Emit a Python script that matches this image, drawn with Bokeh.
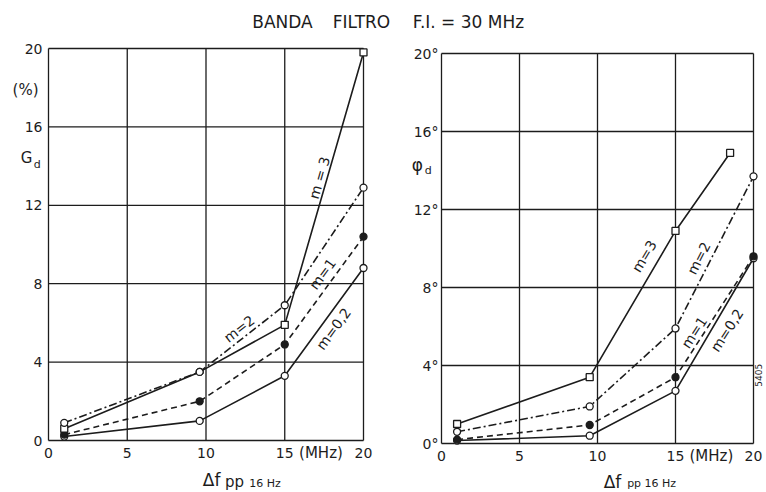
import math
from bokeh.plotting import figure
from bokeh.models import Range1d, Label
from bokeh.core.properties import value
from bokeh.embed import file_html
from bokeh.resources import INLINE

# ---------------- data ----------------
title_parts = ["BANDA", "FILTRO", "F.I. = 30 MHz"]

x_ticks = [0, 5, 10, 15, 20]
x_tick_labels = ["0", "5", "10", "15", "20"]
y_ticks = [0, 4, 8, 12, 16, 20]
left_y_labels = ["0", "4", "8", "12", "16", "20"]
right_y_labels = ["0°", "4°", "8°", "12°", "16°", "20°"]

# left chart: distortion G_d (%)
x_left = [1, 9.6, 15, 20]
gd_m02 = [0.2, 1.0, 3.3, 8.8]
gd_m1 = [0.3, 2.0, 4.9, 10.4]
gd_m2 = [0.9, 3.5, 6.9, 12.9]
gd_m3 = [0.6, 3.5, 5.9, 19.8]
gd_m3_markers = ["square", "circle", "square", "square"]

# right chart: phase phi_d (degrees)
x_right = [1, 9.5, 15, 20]
x_right_m3 = [1, 9.5, 15, 18.5]
phi_m02 = [0.15, 0.4, 2.7, 9.5]
phi_m1 = [0.2, 0.95, 3.4, 9.6]
phi_m2 = [0.6, 1.9, 5.9, 13.7]
phi_m3 = [1.0, 3.4, 10.9, 14.9]

INK = "#1c1c1c"
FONT = "DejaVu Sans"
FONT_V = value(FONT)
W, H = 766, 492

# One canvas; each chart gets its own data ranges (scales) placed on the canvas.
p = figure(width=W, height=H, output_backend="svg", toolbar_location=None,
           x_range=Range1d(0, W), y_range=Range1d(0, H),
           x_axis_location=None, y_axis_location=None, min_border=0)
p.grid.visible = False
p.outline_line_color = None
p.background_fill_color = "white"
p.border_fill_color = "white"


def place(name, px0, px20, py0, py20):
    """map chart values 0..20 onto canvas pixels (x: px0..px20, y from top: py0..py20)"""
    sx = (px20 - px0) / 20.0
    sy = (py0 - py20) / 20.0
    p.extra_x_ranges[name] = Range1d(-px0 / sx, (W - px0) / sx)
    yb0 = H - py0
    p.extra_y_ranges[name] = Range1d(-yb0 / sy, (H - yb0) / sy)


place("L", 48, 363, 440, 48)
place("R", 441, 753, 443, 53)


def frame(rn, ylabels, ystand):
    kw = dict(x_range_name=rn, y_range_name=rn)
    p.segment(x0=x_ticks, y0=[y_ticks[0]] * len(x_ticks), x1=x_ticks, y1=[y_ticks[-1]] * len(x_ticks),
              line_color=INK, line_width=1.3, **kw)
    p.segment(x0=[x_ticks[0]] * len(y_ticks), y0=y_ticks, x1=[x_ticks[-1]] * len(y_ticks), y1=y_ticks,
              line_color=INK, line_width=1.3, **kw)
    p.text(x=x_ticks, y=[y_ticks[0]] * len(x_ticks), text=x_tick_labels, text_align="center",
           text_baseline="top", y_offset=7, text_font=FONT_V, text_font_size="14px",
           text_color=INK, **kw)
    p.text(x=[x_ticks[0]] * len(y_ticks), y=y_ticks, text=ylabels, text_align="right",
           text_baseline="middle", x_offset=-ystand, text_font=FONT_V, text_font_size="14px",
           text_color=INK, **kw)


def series(rn, xs, ys, dash, marker, fill):
    kw = dict(x_range_name=rn, y_range_name=rn)
    p.line(xs, ys, line_color=INK, line_width=1.6, line_dash=dash, **kw)
    p.scatter(xs, ys, marker=marker, size=7, line_color=INK, line_width=1.3, fill_color=fill, **kw)


def label(rn, x, y, text, size="14px", angle=0.0, align="center", baseline="middle"):
    p.add_layout(Label(x=x, y=y, text=text, text_font=FONT, text_font_size=size,
                       text_color=INK, angle=angle, text_align=align, text_baseline=baseline,
                       x_range_name=rn, y_range_name=rn))


# ---------------- title ----------------
for txt, x in zip(title_parts, [282, 361, 468]):
    p.add_layout(Label(x=x, y=H - 21, text=txt, text_font=FONT, text_font_size="17px",
                       text_color=INK, text_align="center", text_baseline="middle"))

# ---------------- left chart ----------------
frame("L", left_y_labels, 6)
series("L", x_left, gd_m02, "solid", "circle", "white")
series("L", x_left, gd_m1, "6 4", "circle", INK)
series("L", x_left, gd_m3, "solid", gd_m3_markers, "white")
series("L", x_left, gd_m2, "8 3 2 3", "circle", "white")

label("L", 17.2, 13.4, "m = 3", angle=math.radians(74))
label("L", 12.1, 5.7, "m=2", angle=math.radians(38))
label("L", 17.4, 8.5, "m=1", angle=math.radians(54))
label("L", 18.1, 5.7, "m=0,2", angle=math.radians(54))

label("L", -1.46, 17.9, "(%)", size="15px")
label("L", -1.4, 14.4, "G", size="15px")
label("L", -0.72, 14.1, "d", size="11px")
label("L", 17.3, -0.62, "(MHz)", size="15px")
label("L", 9.8, -2.0, "Δf", size="17px", align="left", baseline="alphabetic")
label("L", 11.2, -2.12, "pp", size="15px", align="left", baseline="alphabetic")
label("L", 12.75, -2.2, "16 Hz", size="11px", align="left", baseline="alphabetic")

# ---------------- right chart ----------------
frame("R", right_y_labels, 3)
series("R", x_right, phi_m02, "solid", "circle", "white")
series("R", x_right, phi_m1, "6 4", "circle", INK)
series("R", x_right, phi_m2, "8 3 2 3", "circle", "white")
series("R", x_right_m3, phi_m3, "solid", "square", "white")

label("R", 13.0, 9.6, "m=3", angle=math.radians(59))
label("R", 16.5, 9.5, "m=2", angle=math.radians(63))
label("R", 16.2, 5.7, "m=1", angle=math.radians(57))
label("R", 18.3, 5.8, "m=0,2", angle=math.radians(57))

label("R", -1.54, 14.26, "φ", size="17px")
label("R", -0.85, 14.0, "d", size="11px")
label("R", 17.3, -0.66, "(MHz)", size="15px")
label("R", 10.4, -1.95, "Δf", size="17px", align="left", baseline="alphabetic")
label("R", 11.9, -2.05, "pp 16 Hz", size="11px", align="left", baseline="alphabetic")
label("R", 20.3, 3.5, "5405", size="9px", angle=math.radians(90))

open("out.html", "w").write(file_html(p, INLINE))
